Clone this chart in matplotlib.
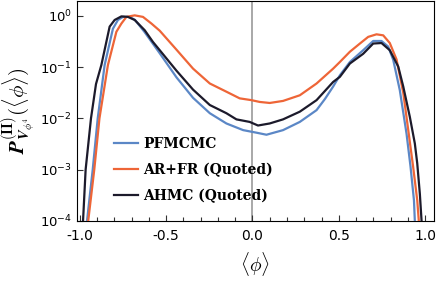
import matplotlib
matplotlib.use('Agg')
import matplotlib.pyplot as plt
import numpy as np
from matplotlib.ticker import MultipleLocator, FixedLocator

# data: x = <phi>, y = log10 P
pf_x = [-0.958, -0.925, -0.896, -0.856, -0.808, -0.779, -0.75, -0.711, -0.68, -0.626, -0.537,
        -0.44, -0.344, -0.247, -0.151, -0.054, 0.023, 0.081, 0.177, 0.274, 0.371, 0.42, 0.467,
        0.506, 0.564, 0.641, 0.699, 0.747, 0.786, 0.815, 0.853, 0.892, 0.915, 0.935, 0.94]
pf_y = [-4.0, -3.0, -2.0, -0.96, -0.25, -0.08, -0.02, -0.02, -0.08, -0.31, -0.73, -1.20, -1.60,
        -1.90, -2.10, -2.23, -2.28, -2.32, -2.23, -2.07, -1.84, -1.62, -1.38, -1.16, -0.90,
        -0.67, -0.49, -0.49, -0.60, -0.86, -1.45, -2.30, -2.94, -3.6, -4.0]

ar_x = [-0.951, -0.916, -0.886, -0.837, -0.788, -0.759, -0.73, -0.682, -0.634, -0.585, -0.537,
        -0.44, -0.344, -0.247, -0.151, -0.074, -0.006, 0.042, 0.1, 0.177, 0.274, 0.371, 0.467,
        0.506, 0.564, 0.622, 0.67, 0.718, 0.757, 0.795, 0.834, 0.873, 0.902, 0.93, 0.954, 0.963]
ar_y = [-4.0, -3.0, -2.0, -0.96, -0.31, -0.15, -0.02, 0.01, -0.02, -0.15, -0.29, -0.66, -1.03,
        -1.32, -1.48, -1.61, -1.645, -1.68, -1.70, -1.66, -1.55, -1.32, -1.03, -0.90, -0.70,
        -0.54, -0.41, -0.36, -0.38, -0.53, -0.85, -1.50, -2.23, -2.94, -3.6, -4.0]

ah_x = [-0.981, -0.966, -0.935, -0.906, -0.875, -0.827, -0.798, -0.759, -0.721, -0.682, -0.624,
        -0.576, -0.537, -0.44, -0.344, -0.247, -0.151, -0.093, -0.016, 0.032, 0.1, 0.177, 0.274,
        0.371, 0.467, 0.506, 0.564, 0.641, 0.699, 0.747, 0.795, 0.844, 0.873, 0.911, 0.94,
        0.954, 0.969, 0.979]
ah_y = [-4.0, -3.0, -2.0, -1.33, -0.96, -0.21, -0.08, -0.01, -0.02, -0.08, -0.28, -0.51, -0.67,
        -1.07, -1.44, -1.74, -1.90, -2.02, -2.07, -2.14, -2.10, -2.02, -1.87, -1.645, -1.29,
        -1.19, -0.93, -0.74, -0.54, -0.53, -0.67, -0.99, -1.38, -1.97, -2.49, -2.88, -3.47, -4.0]

labels = ['PFMCMC', 'AR+FR (Quoted)', 'AHMC (Quoted)']
colors = ['#5b87c6', '#ee6537', '#1c1a2b']

fig = plt.figure(figsize=(4.39, 2.82), dpi=100)
ax = fig.add_axes([0.175, 0.217, 0.814, 0.779])

ax.axvline(0, color='#999999', lw=1.2, zorder=1)
for xs, ys, lab, c in zip([pf_x, ar_x, ah_x], [pf_y, ar_y, ah_y], labels, colors):
    ax.plot(xs, 10 ** np.array(ys), color=c, lw=1.6, label=lab, zorder=3)

ax.set_yscale('log')
ax.set_xlim(-1.017, 1.052)
ax.set_ylim(1e-4, 1.94)
ax.xaxis.set_major_locator(FixedLocator([-1.0, -0.5, 0.0, 0.5, 1.0]))
ax.xaxis.set_major_formatter(plt.FuncFormatter(lambda v, p: '%.1f' % v))
ax.xaxis.set_minor_locator(MultipleLocator(0.1))
ax.yaxis.set_major_locator(FixedLocator([1e-4, 1e-3, 1e-2, 1e-1, 1e0]))
ax.yaxis.set_minor_locator(FixedLocator([]))
ax.tick_params(which='both', direction='in', labelsize=9.5, color='#333333')
ax.tick_params(axis='x', labelsize=10, pad=6)
ax.tick_params(which='major', length=4, width=0.8)
ax.tick_params(which='minor', length=3, width=0.8)
for s in ax.spines.values():
    s.set_linewidth(0.8)

ax.set_xlabel(r'$\langle\phi\rangle$', fontsize=14, labelpad=5, math_fontfamily='cm')
ax.set_ylabel(r'$\boldsymbol{P}^{(\mathbf{II})}_{\boldsymbol{V}_{\phi^4}}(\langle\phi\rangle)$',
              fontsize=15, labelpad=2, math_fontfamily='cm')

ax.legend(loc='lower left', bbox_to_anchor=(0.07, 0.025), frameon=False, handlelength=1.7,
          handletextpad=0.35, labelspacing=0.85,
          prop={'family': 'DejaVu Serif', 'weight': 'bold', 'size': 10})

fig.savefig('out.png', dpi=100)
